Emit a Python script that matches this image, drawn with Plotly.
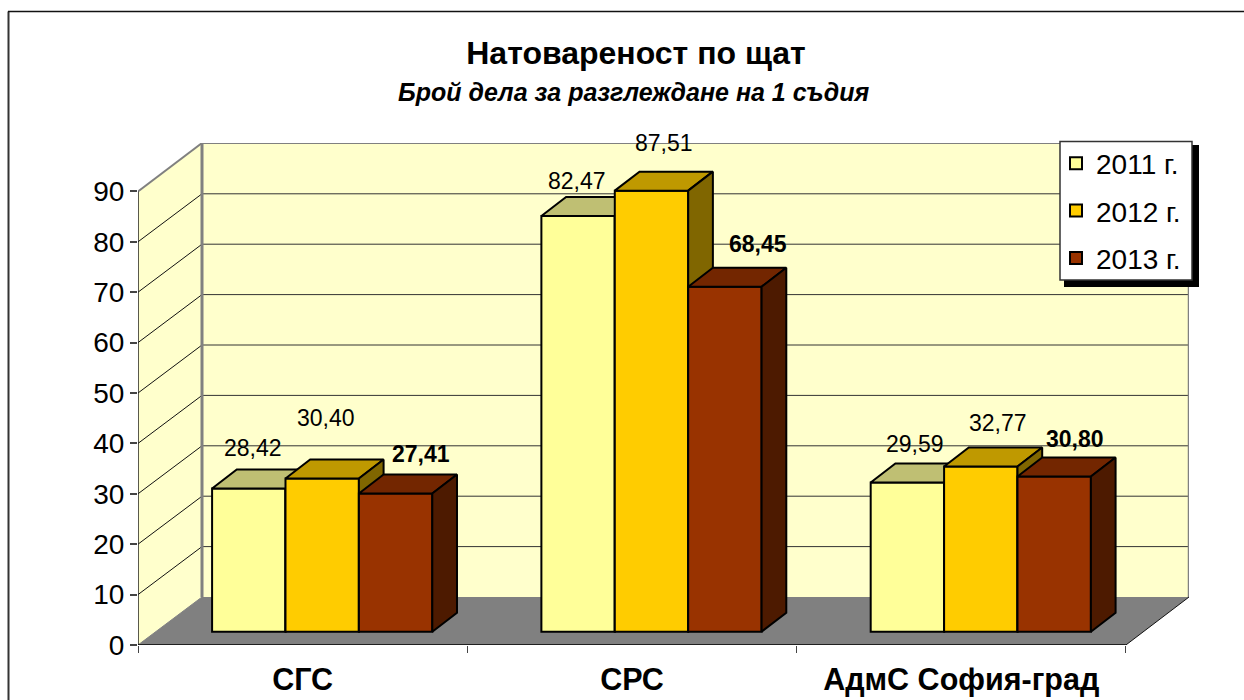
import plotly.graph_objects as go

categories = ["СГС", "СРС", "АдмС София-град"]
series_names = ["2011 г.", "2012 г.", "2013 г."]
values_2011 = [28.42, 82.47, 29.59]
values_2012 = [30.40, 87.51, 32.77]
values_2013 = [27.41, 68.45, 30.80]
y_ticks = [0, 10, 20, 30, 40, 50, 60, 70, 80, 90]

all_values = [values_2011, values_2012, values_2013]
front_colors = ["#FFFF99", "#FFCC00", "#993300"]
top_colors = ["#BFBF73", "#BF9900", "#732600"]
side_colors = ["#808000", "#806600", "#4D1A00"]
label_weight = [400, 400, 700]
# label offsets from the bar's top front centre, in pixels (dx, dy up)
label_dx = [[4, 4, 25], [-1, 13, 33], [8, 17, 21]]
label_dy = [[40, 60, 40], [35, 48, 43], [39, 44, 37]]

W, H = 1244, 700
L, R, T, B = 138, 1189, 143, 645
PX_X = 329.3
PX_Y = 5.04
xmax = (R - L) / PX_X
ymax = (B - T) / PX_Y
wall_dx, wall_dy = 64 / PX_X, 48 / PX_Y
bar_dx, bar_dy = 24.7 / PX_X, 19 / PX_Y
bar_base = 13.3 / PX_Y
bar_w = 73.4 / PX_X
group_off = 0.225
FONT = "Liberation Sans"

fig = go.Figure()
axes = [("x", "y"), ("x2", "y2"), ("x3", "y3")]
for s, vals in enumerate(all_values):
    xa, ya = axes[s]
    lefts = [k + group_off + s * bar_w for k in range(len(vals))]
    fig.add_trace(go.Bar(
        x=[l + bar_w / 2 for l in lefts], y=vals, base=bar_base, width=bar_w,
        name=series_names[s], legendgroup=series_names[s],
        marker=dict(color=front_colors[s], line=dict(color="black", width=2)),
        xaxis=xa, yaxis=ya, hoverinfo="y"))
    tx, ty, sx, sy = [], [], [], []
    for l, v in zip(lefts, vals):
        top = bar_base + v
        tx += [l, l + bar_w, l + bar_w + bar_dx, l + bar_dx, l, None]
        ty += [top, top, top + bar_dy, top + bar_dy, top, None]
        r = l + bar_w
        sx += [r, r + bar_dx, r + bar_dx, r, r, None]
        sy += [top, top + bar_dy, bar_base + bar_dy, bar_base, top, None]
    fig.add_trace(go.Scatter(x=tx, y=ty, mode="lines", fill="toself", fillcolor=top_colors[s],
                             line=dict(color="black", width=2), showlegend=False,
                             hoverinfo="skip", xaxis=xa, yaxis=ya))
    fig.add_trace(go.Scatter(x=sx, y=sy, mode="lines", fill="toself", fillcolor=side_colors[s],
                             line=dict(color="black", width=2), showlegend=False,
                             hoverinfo="skip", xaxis=xa, yaxis=ya))
    for k, v in enumerate(vals):
        fig.add_annotation(
            x=lefts[k] + bar_w / 2, y=bar_base + v, xref="x", yref="y",
            xanchor="center", yanchor="middle",
            text=f"{v:.2f}".replace(".", ","), showarrow=False,
            xshift=label_dx[k][s], yshift=label_dy[k][s],
            font=dict(family=FONT, size=23, color="black", weight=label_weight[s]))

shapes = []
def poly(xs, ys, fill, layer="below"):
    p = "M" + "L".join(f"{a},{b}" for a, b in zip(xs, ys)) + "Z"
    shapes.append(dict(type="path", path=p, xref="x", yref="y", fillcolor=fill,
                       line=dict(width=0), layer=layer))
def line(x0, y0, x1, y1, color, width, layer="below"):
    shapes.append(dict(type="line", x0=x0, y0=y0, x1=x1, y1=y1, xref="x", yref="y",
                       line=dict(color=color, width=width), layer=layer))

top90 = y_ticks[-1]
poly([wall_dx, xmax, xmax, wall_dx], [wall_dy, wall_dy, ymax, ymax], "#FFFFCC")
poly([0, wall_dx, wall_dx, 0], [0, wall_dy, ymax, top90], "#FFFFCC")
poly([0, 3, xmax, wall_dx], [0, 0, wall_dy, wall_dy], "#808080")
for t in y_ticks[1:-1]:
    line(0, t, wall_dx, t + wall_dy, "#111111", 1)
    line(wall_dx, t + wall_dy, xmax, t + wall_dy, "#333333", 1)
line(0, top90, wall_dx, ymax, "#808080", 2)
line(wall_dx, ymax, xmax, ymax, "#808080", 2)
line(wall_dx, wall_dy, wall_dx, ymax, "#808080", 3)
line(xmax, wall_dy, xmax, ymax, "#808080", 2.5)
line(0, 0, wall_dx, wall_dy, "#808080", 1)
line(3, 0, xmax, wall_dy, "#111111", 1)
line(0, 0, 0, top90, "#222222", 1.5)
line(0, 0, 3, 0, "black", 1.5)

def px(x): return (x - L) / (R - L)
def py(y): return (B - y) / (B - T)
# legend shadow and box
shapes.append(dict(type="rect", xref="paper", yref="paper", x0=px(1064), x1=px(1199),
                   y0=py(287), y1=py(145), fillcolor="black", line=dict(width=0), layer="above"))
shapes.append(dict(type="rect", xref="paper", yref="paper", x0=px(1060), x1=px(1192),
                   y0=py(280), y1=py(141.5), fillcolor="white",
                   line=dict(color="#333333", width=1.5), layer="above"))
# chart area border (left and top)
shapes.append(dict(type="line", xref="paper", yref="paper", x0=px(8.5), x1=px(8.5),
                   y0=py(700), y1=py(11.5), line=dict(color="#333333", width=2), layer="above"))
shapes.append(dict(type="line", xref="paper", yref="paper", x0=px(8), x1=px(1244),
                   y0=py(11.5), y1=py(11.5), line=dict(color="#111111", width=1.5), layer="above"))

base_hidden = dict(visible=False, range=[0, xmax], domain=[0, 1], fixedrange=True)
base_hidden_y = dict(visible=False, range=[0, ymax], domain=[0, 1], fixedrange=True)

fig.add_annotation(x=px(633), y=py(92), xref="paper", yref="paper", showarrow=False,
                   xanchor="center", yanchor="middle",
                   text="<b><i>Брой дела за разглеждане на 1 съдия</i></b>",
                   font=dict(family=FONT, size=25, color="black"))

fig.update_layout(
    width=W, height=H, autosize=False,
    margin=dict(l=L, r=W - R, t=T, b=H - B, pad=0, autoexpand=False),
    paper_bgcolor="white", plot_bgcolor="rgba(0,0,0,0)",
    barmode="overlay", shapes=shapes, hovermode=False,
    title=dict(text="<b>Натовареност по щат</b>", x=636 / W, y=1 - 53 / H, xref="container",
               yref="container", xanchor="center", yanchor="middle",
               font=dict(family=FONT, size=32, color="black")),
    font=dict(family=FONT, color="black"),
    xaxis=dict(range=[0, xmax], domain=[0, 1], fixedrange=True, showgrid=False, zeroline=False,
               showline=False, tickmode="array", tickvals=[0.5, 1.5, 2.5], ticktext=categories,
               ticks="", tickangle=0, ticklabelstandoff=13, automargin=False,
               tickfont=dict(family=FONT, size=30.5, color="black", weight=700),
               minor=dict(tickmode="array", tickvals=[0, 1, 2, 3], ticks="outside", ticklen=7,
                          tickcolor="#444444", tickwidth=1, showgrid=False)),
    yaxis=dict(range=[0, ymax], domain=[0, 1], fixedrange=True, showgrid=False, zeroline=False,
               showline=False, tickmode="array", tickvals=y_ticks, ticks="outside", ticklen=7,
               tickcolor="#444444", tickwidth=1.5, automargin=False,
               tickfont=dict(family=FONT, size=28, color="black")),
    xaxis2=dict(base_hidden, overlaying="x"),
    yaxis2=dict(base_hidden_y, overlaying="y"),
    xaxis3=dict(base_hidden, overlaying="x"),
    yaxis3=dict(base_hidden_y, overlaying="y"),
    legend=dict(x=px(1056), y=py(138.5), xanchor="left", yanchor="top",
                bgcolor="rgba(0,0,0,0)", borderwidth=0, traceorder="grouped", tracegroupgap=8,
                font=dict(family=FONT, size=28, color="black")),
)

fig.write_html("out.html", config=dict(displayModeBar=False),
               post_script="document.body.style.margin='0';document.body.style.overflow='hidden';")
